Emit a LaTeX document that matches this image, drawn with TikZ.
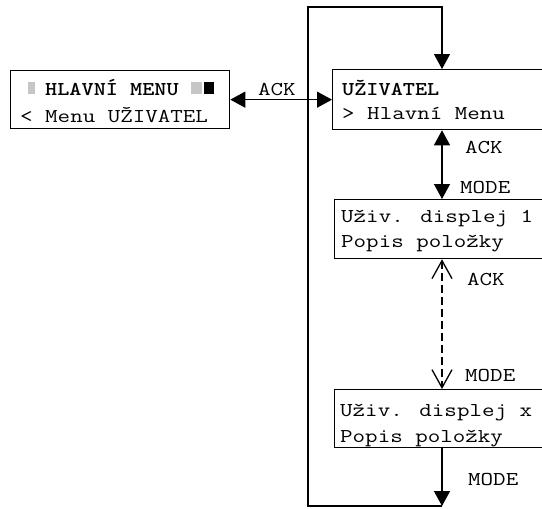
\documentclass[tikz,border=0pt]{standalone}
\usetikzlibrary{arrows.meta}
\newcommand{\wtxt}[1]{\scalebox{1.24}[1]{#1}}
\newcommand{\wbtxt}[1]{\scalebox{1.18}[1]{#1}}
\tikzset{
  box/.style={draw, line width=1.3pt, inner sep=0pt, anchor=north west},
  txt/.style={inner sep=0pt, anchor=base west, font=\ttfamily\fontsize{19.6}{24}\selectfont},
  btxt/.style={txt, font=\ttfamily\fontsize{19.6}{24}\selectfont\bfseries},
  conn/.style={line width=1.3pt},
  fullarr/.style={conn, -{Triangle[length=15pt,width=16pt]}},
  biarr/.style={conn, {Triangle[length=15pt,width=16pt]}-{Triangle[length=15pt,width=16pt]}},
  dasharr/.style={conn, dash pattern=on 8pt off 4pt, {Straight Barb[length=18pt,width=20pt,line width=1.3pt]}-{Straight Barb[length=18pt,width=20pt,line width=1.3pt]}},
}
\begin{document}
\begin{tikzpicture}[x=1pt,y=-1pt]
\path[use as bounding box, clip] (0,0) rectangle (542,509);
\fill[white] (0,0) rectangle (542,509);
% boxes
\node[box, minimum width=219pt, minimum height=58pt] (menu) at (10,70) {};
\node[box, minimum width=240pt, minimum height=60pt] (user) at (332,69) {};
\node[box, minimum width=240pt, minimum height=59pt] (d1) at (334,199) {};
\node[box, minimum width=240pt, minimum height=58pt] (dx) at (334,389) {};
% block glyphs
\fill[gray!45] (28,82) rectangle (35,94);
\fill[gray!45] (191,82) rectangle (202,94);
\fill[black] (204,82) rectangle (214,94);
% texts
\node[btxt] (t1) at (45,95) {\wbtxt{HLAVNÍ MENU}};
\node[txt] (t2) at (20,122.5) {\wtxt{< Menu UŽIVATEL}};
\node[btxt] (t3) at (342,95) {\wbtxt{UŽIVATEL}};
\node[txt] (t4) at (342,119) {\wtxt{> Hlavní Menu}};
\node[txt] (t5) at (341,222) {\wtxt{Uživ. displej 1}};
\node[txt] (t6) at (341,247) {\wtxt{Popis položky}};
\node[txt] (t7) at (340,416) {\wtxt{Uživ. displej x}};
\node[txt] (t8) at (340,442) {\wtxt{Popis položky}};
% coordinates
\coordinate (colx) at (442,0);
\coordinate (tl) at (308,7);
\coordinate (bl) at (308,506);
% connectors
\draw[biarr] (menu.east) -- (user.west);
\draw[biarr] (user.south -| colx) -- (d1.north -| colx);
\draw[dasharr] (d1.south -| colx) -- (dx.north -| colx);
\draw[fullarr] (dx.south -| colx) -- (bl -| colx);
\draw[fullarr] (bl -| colx) -- (bl) -- (tl) -- (tl -| colx) -- (user.north -| colx);
% labels
\node[txt] (l1) at (258,95) {\wtxt{ACK}};
\node[txt] (l2) at (465,153) {\wtxt{ACK}};
\node[txt] (l3) at (460,193) {\wtxt{MODE}};
\node[txt] (l4) at (467,285) {\wtxt{ACK}};
\node[txt] (l5) at (465,381) {\wtxt{MODE}};
\node[txt] (l6) at (468,485) {\wtxt{MODE}};
\end{tikzpicture}
\end{document}
